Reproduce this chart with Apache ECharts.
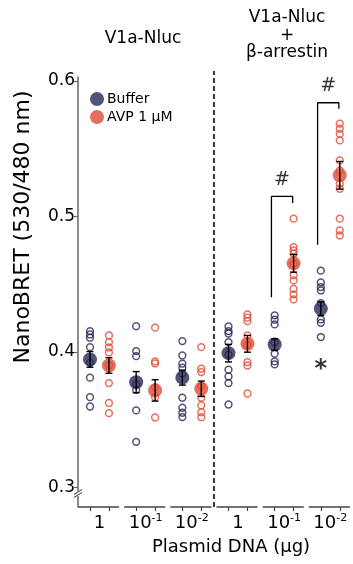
<!DOCTYPE html>
<html>
<head>
<meta charset="utf-8">
<script src="https://cdn.jsdelivr.net/npm/echarts@6/dist/echarts.min.js"></script>
<style>
  html, body { margin: 0; padding: 0; background: #fff; }
  #chart { width: 353px; height: 564px; }
</style>
</head>
<body>
<div id="chart"></div>
<script>
// six groups: V1a-Nluc (1, 10^-1, 10^-2), then V1a-Nluc + β-arrestin (1, 10^-1, 10^-2)
const doseExponents = [0, -1, -2, 0, -1, -2]

const bufferPoints = [
  [0.4154, 0.4129, 0.4105, 0.4035, 0.392, 0.381, 0.3666, 0.3597],
  [0.419, 0.4006, 0.3969, 0.376, 0.372, 0.3568, 0.3336],
  [0.408, 0.3974, 0.3913, 0.3883, 0.384, 0.3662, 0.3588, 0.3551, 0.3519],
  [0.4188, 0.4154, 0.4136, 0.4072, 0.398, 0.3869, 0.3819, 0.377, 0.3612],
  [0.427, 0.4238, 0.4203, 0.407, 0.3987, 0.393, 0.3908],
  [0.46, 0.4513, 0.4479, 0.4454, 0.436, 0.424, 0.4215, 0.411]
]
const avpPoints = [
  [0.4122, 0.4072, 0.4033, 0.3996, 0.39, 0.377, 0.3623, 0.3548],
  [0.4179, 0.393, 0.3915, 0.374, 0.3666, 0.3516],
  [0.4035, 0.3876, 0.3851, 0.375, 0.3662, 0.3605, 0.3555, 0.3518],
  [0.4277, 0.4253, 0.4227, 0.4122, 0.405, 0.3925, 0.39, 0.3693],
  [0.4984, 0.4774, 0.475, 0.4725, 0.465, 0.4565, 0.4528, 0.4465, 0.4425, 0.4388],
  [0.5685, 0.5648, 0.561, 0.5562, 0.5414, 0.534, 0.5242, 0.5205, 0.4984, 0.4897, 0.486]
]

const bufferMean = [0.3945, 0.3777, 0.381, 0.3991, 0.4055, 0.432]
const bufferSem = [0.0058, 0.0078, 0.0055, 0.0065, 0.0043, 0.005]
const avpMean = [0.39, 0.3716, 0.3728, 0.406, 0.4654, 0.5304]
const avpSem = [0.0057, 0.0079, 0.0057, 0.0062, 0.0065, 0.0102]

const yTicks = [0.3, 0.4, 0.5, 0.6]

// significance marks: groups with a # bracket, bracket heights
const hashGroups = [4, 5]
const bracketTop = [0.5148, 0.584]
const bracketLeftEnd = [0.4403, 0.4792]
const bracketRightEnd = [0.51, 0.5796]
const starGroups = [5]
const starValue = [0.39]

const NAVY = '#262857'
const RED = '#df4b34'
const FONT = 'DejaVu Sans'

// layout along the x value axis: one unit per group
const BUF_OFF = 0.26
const AVP_OFF = 0.67
const SEG_LEN = 0.89
const LABEL_OFF = 0.465
const DIVIDER_X = 2.945
const Y_MIN = 0.2855
const Y_MAX = 0.603

const groups = doseExponents.map((_d, i) => i)

const chart = echarts.init(document.getElementById('chart'))

function errorBars(name, off, means, sems) {
  return {
    type: 'custom',
    name,
    z: 6,
    silent: true,
    renderItem(params, api) {
      const x = api.value(0)
      const m = api.value(1)
      const s = api.value(2)
      const top = api.coord([x, m + s])
      const bot = api.coord([x, m - s])
      const hw = 3.5
      const style = { stroke: '#000', lineWidth: 1.4 }
      return {
        type: 'group',
        children: [
          { type: 'line', shape: { x1: top[0], y1: top[1], x2: bot[0], y2: bot[1] }, style },
          { type: 'line', shape: { x1: top[0] - hw, y1: top[1], x2: top[0] + hw, y2: top[1] }, style },
          { type: 'line', shape: { x1: bot[0] - hw, y1: bot[1], x2: bot[0] + hw, y2: bot[1] }, style }
        ]
      }
    },
    data: means.map((m, g) => [g + off, m, sems[g]])
  }
}

const series = []

// open circles (individual values)
series.push({
  name: 'Buffer points',
  type: 'scatter',
  symbol: 'circle',
  symbolSize: 6.8,
  z: 2,
  itemStyle: { color: 'rgba(255,255,255,0)', borderColor: NAVY, borderWidth: 1.5 },
  data: groups.flatMap((g) => bufferPoints[g].map((v) => [g + BUF_OFF, v]))
})
series.push({
  name: 'AVP points',
  type: 'scatter',
  symbol: 'circle',
  symbolSize: 6.8,
  z: 2,
  itemStyle: { color: 'rgba(255,255,255,0)', borderColor: RED, borderWidth: 1.5 },
  data: groups.flatMap((g) => avpPoints[g].map((v) => [g + AVP_OFF, v]))
})

// means
series.push({
  name: 'Buffer',
  type: 'scatter',
  symbol: 'circle',
  symbolSize: 14,
  z: 4,
  itemStyle: { color: NAVY },
  data: bufferMean.map((m, g) => [g + BUF_OFF, m])
})
series.push({
  name: 'AVP 1 µM',
  type: 'scatter',
  symbol: 'circle',
  symbolSize: 14,
  z: 4,
  itemStyle: { color: RED },
  data: avpMean.map((m, g) => [g + AVP_OFF, m])
})

series.push(errorBars('Buffer sem', BUF_OFF, bufferMean, bufferSem))
series.push(errorBars('AVP sem', AVP_OFF, avpMean, avpSem))

// broken x axis: one segment per group
for (const g of groups) {
  series.push({
    type: 'line',
    silent: true,
    clip: false,
    symbol: 'none',
    lineStyle: { color: '#444', width: 1.5 },
    data: [[g, Y_MIN], [g + SEG_LEN, Y_MIN]]
  })
}

// dashed divider between the two panels
series.push({
  type: 'line',
  silent: true,
  clip: false,
  symbol: 'none',
  lineStyle: { color: '#3a3a3a', width: 2, type: [5, 3] },
  data: [[DIVIDER_X, Y_MIN], [DIVIDER_X, 0.6075]]
})

// # brackets
hashGroups.forEach((g, i) => {
  series.push({
    type: 'line',
    silent: true,
    clip: false,
    symbol: 'none',
    lineStyle: { color: '#000', width: 1.3 },
    data: [
      [g + 0.19, bracketLeftEnd[i]],
      [g + 0.19, bracketTop[i]],
      [g + 0.65, bracketTop[i]],
      [g + 0.65, bracketRightEnd[i]]
    ]
  })
})
series.push({
  type: 'scatter',
  silent: true,
  symbolSize: 0,
  label: {
    show: true,
    position: 'inside',
    formatter: '#',
    color: '#000',
    fontFamily: FONT,
    fontSize: 19
  },
  data: hashGroups.map((g, i) => [g + 0.42, bracketTop[i] + 0.012])
})
series.push({
  type: 'scatter',
  silent: true,
  symbolSize: 0,
  label: {
    show: true,
    position: 'inside',
    formatter: '*',
    color: '#000',
    fontFamily: FONT,
    fontWeight: 'bold',
    fontSize: 24,
    offset: [0, 4]
  },
  data: starGroups.map((g, i) => [g + BUF_OFF, starValue[i]])
})

chart.setOption({
  animation: false,
  grid: {
    left: 78,
    right: 4,
    top: 77,
    bottom: 57,
    containLabel: false,
    outerBoundsMode: 'none'
  },
  legend: {
    data: ['Buffer', 'AVP 1 µM'],
    orient: 'vertical',
    left: 90,
    top: 92,
    padding: 0,
    itemWidth: 14,
    itemHeight: 14,
    itemGap: 4,
    icon: 'circle',
    selectedMode: false,
    textStyle: { fontFamily: FONT, fontSize: 14, color: '#000', padding: [0, 0, 0, -2] }
  },
  xAxis: {
    type: 'value',
    min: 0,
    max: 5.87,
    splitLine: { show: false },
    axisLine: { show: false },
    axisTick: {
      show: true,
      length: 4,
      customValues: groups.flatMap((g) => [g + BUF_OFF, g + AVP_OFF]),
      lineStyle: { color: '#444', width: 1.2 }
    },
    axisLabel: {
      customValues: groups.map((g) => g + LABEL_OFF),
      margin: 6,
      formatter: (v) => {
        const e = doseExponents[Math.round(v - LABEL_OFF)]
        return e === 0 ? '{b|1}' : '{b|10}{s|' + e + '}'
      },
      rich: {
        b: { fontFamily: FONT, fontSize: 18, color: '#000', lineHeight: 20 },
        s: { fontFamily: FONT, fontSize: 11, color: '#000', verticalAlign: 'top', lineHeight: 20, padding: [0, 0, 8, 0] }
      }
    }
  },
  yAxis: {
    type: 'value',
    min: Y_MIN,
    max: Y_MAX,
    splitLine: { show: false },
    axisLine: { show: true, lineStyle: { color: '#666', width: 1.5 } },
    axisTick: { show: true, length: 4, customValues: yTicks, lineStyle: { color: '#666', width: 1.2 } },
    axisLabel: {
      customValues: yTicks,
      margin: 3,
      formatter: (v) => v.toFixed(1),
      fontFamily: FONT,
      fontSize: 17,
      color: '#000'
    }
  },
  series
})

// titles, axis titles and the y axis break mark
const brk = chart.convertToPixel({ gridIndex: 0 }, [0, 0.2955])
chart.setOption({
  graphic: [
    { id: 't1', type: 'text', x: 143, y: 39, style: { text: 'V1a-Nluc', font: '17px "DejaVu Sans"', fill: '#000', align: 'center', verticalAlign: 'middle' } },
    { id: 't2', type: 'text', x: 287, y: 18, style: { text: 'V1a-Nluc', font: '17px "DejaVu Sans"', fill: '#000', align: 'center', verticalAlign: 'middle' } },
    { id: 't3', type: 'text', x: 287, y: 36, style: { text: '+', font: '17px "DejaVu Sans"', fill: '#000', align: 'center', verticalAlign: 'middle' } },
    { id: 't4', type: 'text', x: 287, y: 53, style: { text: 'β-arrestin', font: '17px "DejaVu Sans"', fill: '#000', align: 'center', verticalAlign: 'middle' } },
    { id: 'xt', type: 'text', x: 231, y: 547, style: { text: 'Plasmid DNA (µg)', font: '18px "DejaVu Sans"', fill: '#000', align: 'center', verticalAlign: 'middle' } },
    { id: 'yt', type: 'text', x: 23, y: 227, rotation: Math.PI / 2, style: { text: 'NanoBRET (530/480 nm)', font: '22px "DejaVu Sans"', fill: '#000', align: 'center', verticalAlign: 'middle' } },
    { id: 'bk', type: 'rect', shape: { x: brk[0] - 3, y: brk[1] - 2.5, width: 6, height: 5 }, style: { fill: '#fff' }, z: 100 },
    { id: 'b1', type: 'line', shape: { x1: brk[0] - 4, y1: brk[1] + 1, x2: brk[0] + 4, y2: brk[1] - 4 }, style: { stroke: '#666', lineWidth: 1.2 }, z: 101 },
    { id: 'b2', type: 'line', shape: { x1: brk[0] - 4, y1: brk[1] + 4, x2: brk[0] + 4, y2: brk[1] - 1 }, style: { stroke: '#666', lineWidth: 1.2 }, z: 101 }
  ]
})
</script>
</body>
</html>
